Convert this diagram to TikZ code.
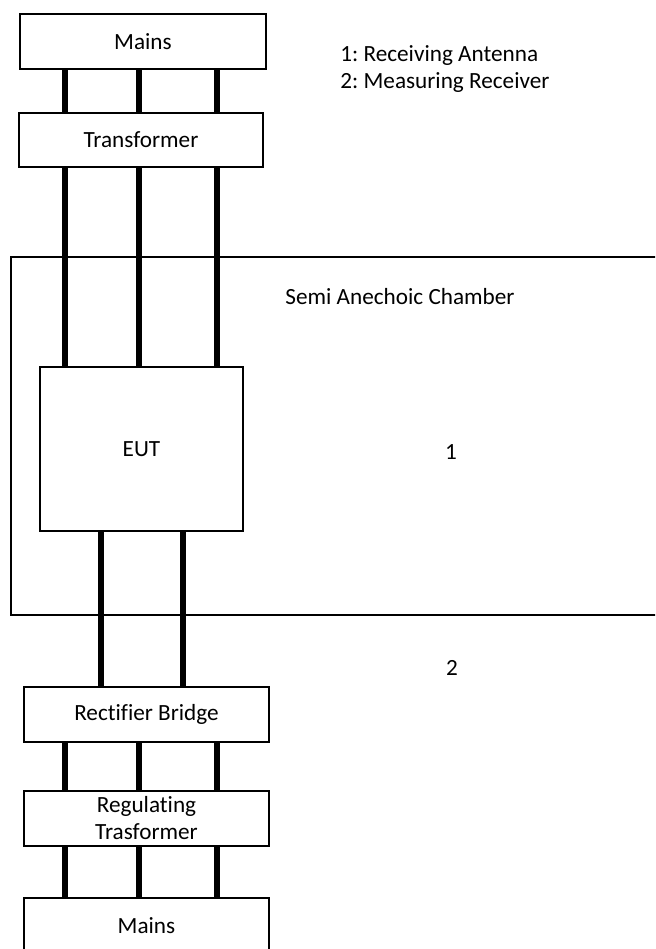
\documentclass[tikz,border=0pt]{standalone}
\usepackage{fontspec}
\setmainfont{Carlito}[Ligatures=NoCommon]
\usetikzlibrary{positioning}
\frenchspacing

\begin{document}
\begin{tikzpicture}[x=0.5pt,y=-0.5pt,
  blk/.style={draw,line width=0.9pt,fill=white,inner sep=0pt,align=center,font=\fontsize{11.6}{13.5}\selectfont},
  wire/.style={line width=2.6pt},
  lbl/.style={inner sep=0pt,font=\fontsize{11.6}{13.5}\selectfont}]
\clip (0,0) rectangle (655,949);
\fill[white] (0,0) rectangle (655,949);
% chamber frame (open to the right edge)
\draw[line width=0.7pt] (11,257) rectangle (680,615);
\node[lbl] (chamber) at (400,297) {Semi Anechoic Chamber};
% supply chain above the chamber
\node[blk,minimum width=123pt,minimum height=27.5pt] (mainsA) at (143,41.5) {Mains};
\node[blk,minimum width=122pt,minimum height=27pt] (trafo) at (141,140) {Transformer};
\node[blk,minimum width=101.5pt,minimum height=82pt] (eut) at (141.5,449) {EUT};
% supply chain below the chamber
\node[blk,minimum width=122.5pt,minimum height=27.5pt] (rect) at (146.5,714.5) {Rectifier Bridge};
\node[blk,minimum width=122.5pt,minimum height=27.5pt] (reg) at (146.5,818.5) {Regulating\\Trasformer};
\node[blk,minimum width=122.5pt,minimum height=27.5pt] (mainsB) at (146.5,925.5) {Mains};
% wires
\foreach \x in {65,139,217} {
  \draw[wire] (mainsA.south -| \x,0) -- (trafo.north -| \x,0);
  \draw[wire] (trafo.south -| \x,0) -- (eut.north -| \x,0);
  \draw[wire] (rect.south -| \x,0) -- (reg.north -| \x,0);
  \draw[wire] (reg.south -| \x,0) -- (mainsB.north -| \x,0);
}
\foreach \x in {101,183}
  \draw[wire] (eut.south -| \x,0) -- (rect.north -| \x,0);
% numbers and legend
\node[lbl] (ant) at (451,452) {1};
\node[lbl] (rcv) at (452,668) {2};
\node[lbl,anchor=west] (leg1) at (340,56) {1: Receiving Antenna};
\node[lbl,anchor=west] (leg2) at (340,83) {2: Measuring Receiver};
\end{tikzpicture}
\end{document}
